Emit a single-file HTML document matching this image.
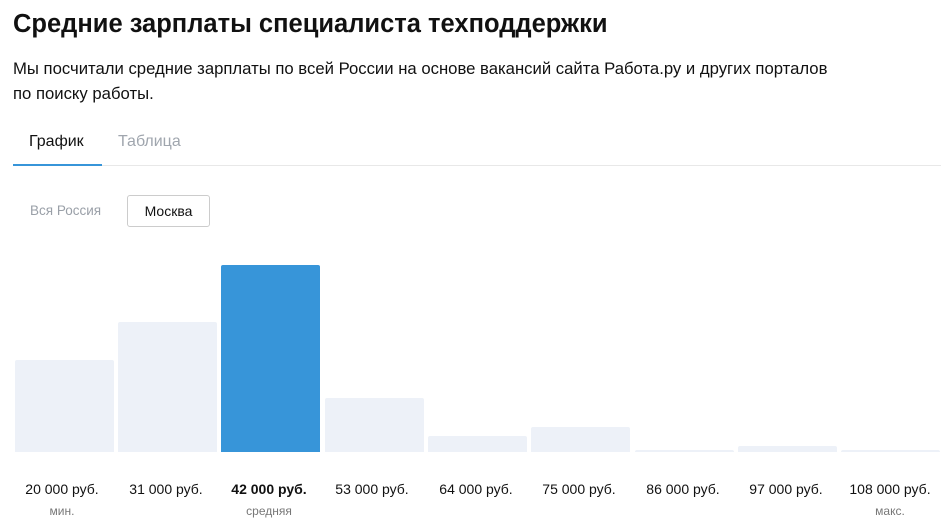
<!DOCTYPE html>
<html><head><meta charset="utf-8"><style>
body{margin:0;width:944px;height:523px;background:#fff;font-family:"Liberation Sans","DejaVu Sans",sans-serif;color:#111;position:relative;overflow:hidden}
.a{position:absolute;white-space:nowrap}
.bar{position:absolute;background:#edf1f8;border-radius:2px 2px 0 0;width:99px}
.lab{position:absolute;width:120px;text-align:center;font-size:14px;top:481px}
.sub{position:absolute;width:120px;text-align:center;font-size:12px;color:#777;top:504px}
</style></head><body>
<div class="a" style="left:13px;top:10px;font-size:25.5px;font-weight:bold">Средние зарплаты специалиста техподдержки</div>
<div class="a" style="left:13px;top:56px;font-size:16.7px;line-height:25px">Мы посчитали средние зарплаты по всей России на основе вакансий сайта Работа.ру и других порталов<br>по поиску работы.</div>
<div class="a" style="left:29px;top:133px;font-size:16px">График</div>
<div class="a" style="left:118px;top:133px;font-size:16px;color:#a0a6ae">Таблица</div>
<div class="a" style="left:13px;top:165px;width:928px;height:1px;background:#e8e8e8"></div>
<div class="a" style="left:13px;top:164px;width:89px;height:2px;background:#3795d9"></div>
<div class="a" style="left:30px;top:203px;font-size:13.5px;color:#9aa0a8">Вся Россия</div>
<div class="a" style="left:127px;top:195px;width:81px;height:30px;border:1px solid #ccc;border-radius:3px;font-size:14px;text-align:center;line-height:30px">Москва</div>
<div class="bar" style="left:15px;top:360px;height:92px"></div>
<div class="bar" style="left:118px;top:322px;height:130px"></div>
<div class="bar" style="left:221px;top:265px;height:187px;background:#3795d9"></div>
<div class="bar" style="left:325px;top:398px;height:54px"></div>
<div class="bar" style="left:428px;top:436px;height:16px"></div>
<div class="bar" style="left:531px;top:427px;height:25px"></div>
<div class="bar" style="left:635px;top:450px;height:2px"></div>
<div class="bar" style="left:738px;top:446px;height:6px"></div>
<div class="bar" style="left:841px;top:450px;height:2px"></div>
<div class="lab" style="left:2px">20 000 руб.</div>
<div class="lab" style="left:106px">31 000 руб.</div>
<div class="lab" style="left:209px;font-weight:bold">42 000 руб.</div>
<div class="lab" style="left:312px">53 000 руб.</div>
<div class="lab" style="left:416px">64 000 руб.</div>
<div class="lab" style="left:519px">75 000 руб.</div>
<div class="lab" style="left:623px">86 000 руб.</div>
<div class="lab" style="left:726px">97 000 руб.</div>
<div class="lab" style="left:830px">108 000 руб.</div>
<div class="sub" style="left:2px">мин.</div>
<div class="sub" style="left:209px">средняя</div>
<div class="sub" style="left:830px">макс.</div>
</body></html>
